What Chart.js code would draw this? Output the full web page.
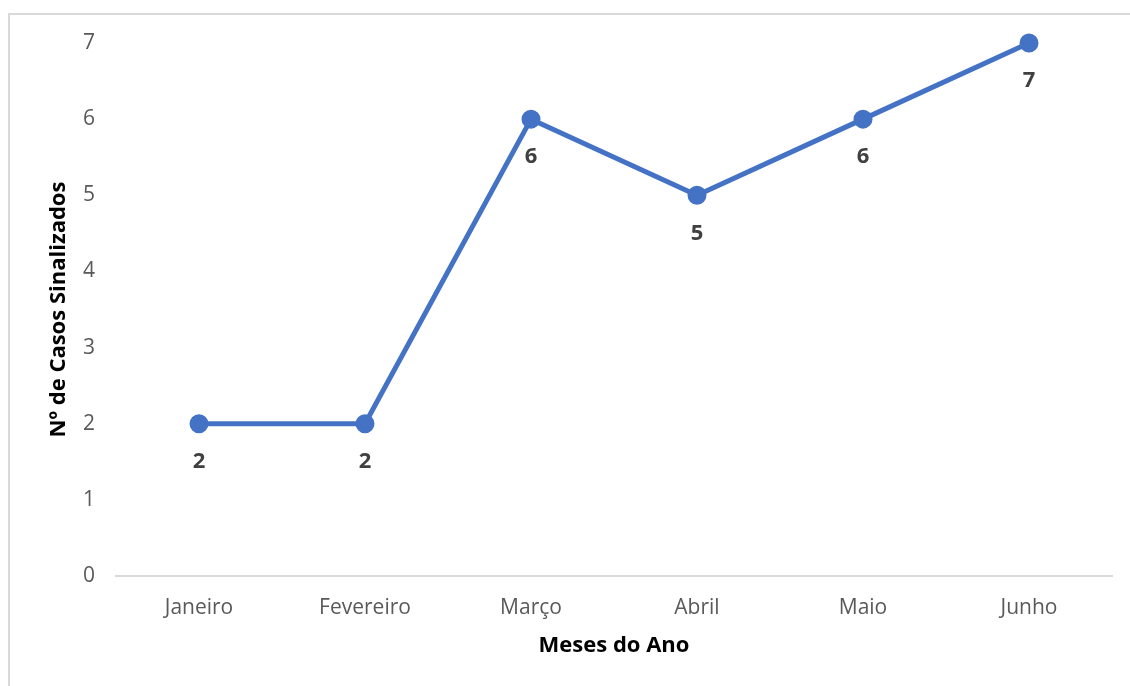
<!DOCTYPE html>
<html>
<head>
<meta charset="utf-8">
<script src="https://cdn.jsdelivr.net/npm/chart.js@4.4.1/dist/chart.umd.min.js"></script>
<style>
  body { margin: 0; background: #fff; overflow: hidden; }
  #wrap { position: relative; width: 1130px; height: 686px; }
  #frame { position: absolute; left: 8px; top: 13px; width: 1140px; height: 700px; border: 2px solid #d9d9d9; box-sizing: border-box; pointer-events: none; }
  canvas { position: absolute; left: 0; top: 0; }
</style>
</head>
<body>
<div id="wrap">
  <canvas id="casos" width="1130" height="686"></canvas>
  <div id="frame"></div>
</div>
<script>
const meses = ['Janeiro', 'Fevereiro', 'Março', 'Abril', 'Maio', 'Junho'];
const casos = [2, 2, 6, 5, 6, 7];
const yTicks = [0, 1, 2, 3, 4, 5, 6, 7];

const FONT = "'Open Sans', 'Liberation Sans', sans-serif";

// valores por baixo de cada ponto
const rotulos = {
  id: 'rotulos',
  afterDatasetsDraw(chart) {
    const ctx = chart.ctx;
    const meta = chart.getDatasetMeta(0);
    ctx.save();
    ctx.font = `bold 22px ${FONT}`;
    ctx.fillStyle = '#404040';
    ctx.textAlign = 'center';
    ctx.textBaseline = 'middle';
    meta.data.forEach((pt, i) => {
      ctx.fillText(String(casos[i]), pt.x, pt.y + 38);
    });
    ctx.restore();
  }
};

new Chart(document.getElementById('casos'), {
  type: 'line',
  data: {
    labels: meses,
    datasets: [{
      data: casos,
      borderColor: '#4472c4',
      backgroundColor: '#4472c4',
      borderWidth: 5,
      pointRadius: 7,
      pointHoverRadius: 7,
      tension: 0,
      fill: false,
      clip: false
    }]
  },
  options: {
    responsive: false,
    animation: false,
    layout: { padding: { top: 43, right: 18, bottom: 0, left: 0 } },
    plugins: { legend: { display: false }, tooltip: { enabled: false } },
    scales: {
      x: {
        offset: true,
        grid: { display: false },
        border: { display: true, color: '#d9d9d9', width: 2 },
        ticks: { color: '#595959', font: { family: FONT, size: 21 }, padding: 11 },
        title: {
          display: true,
          text: 'Meses do Ano',
          color: '#000',
          font: { family: FONT, size: 22, weight: 'bold' },
          padding: { bottom: 27 }
        },
        afterFit(scale) { scale.height = 110; }
      },
      y: {
        min: 0,
        max: 7,
        afterBuildTicks(scale) { scale.ticks = yTicks.map(v => ({ value: v })); },
        grid: { display: false, drawTicks: false },
        border: { display: false },
        ticks: { color: '#595959', font: { family: FONT, size: 21 }, padding: 21 },
        title: {
          display: true,
          text: 'Nº de Casos Sinalizados',
          color: '#000',
          font: { family: FONT, size: 22, weight: 'bold' },
          padding: { top: 46 }
        },
        afterFit(scale) { scale.width = 116; }
      }
    }
  },
  plugins: [rotulos]
});
</script>
</body>
</html>
